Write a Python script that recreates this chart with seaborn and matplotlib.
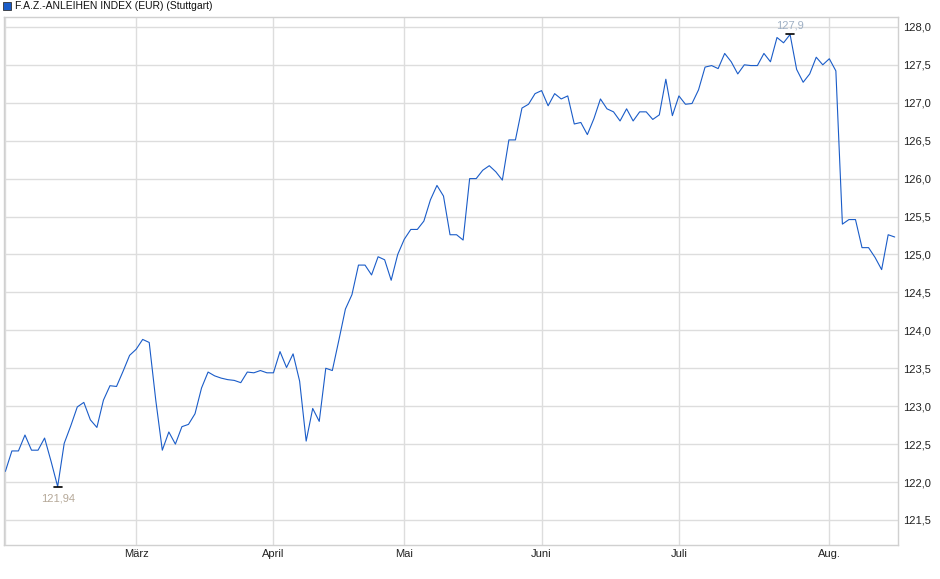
import numpy as np
import pandas as pd
import matplotlib
matplotlib.use("Agg")
import matplotlib.pyplot as plt
import seaborn as sns

# daily closes (trading-day index)
values = [
    122.14, 122.41, 122.41, 122.62, 122.42, 122.42, 122.58, 122.27, 121.94, 122.51,
    122.74, 122.99, 123.05, 122.82, 122.72, 123.08, 123.27, 123.26, 123.46, 123.67,
    123.75, 123.88, 123.84, 123.08, 122.42, 122.66, 122.50, 122.73, 122.76, 122.90,
    123.24, 123.45, 123.40, 123.37, 123.35, 123.34, 123.31, 123.45, 123.44, 123.47,
    123.44, 123.44, 123.72, 123.51, 123.69, 123.33, 122.54, 122.97, 122.80, 123.50,
    123.47, 123.87, 124.28, 124.47, 124.86, 124.86, 124.73, 124.97, 124.93, 124.66,
    125.00, 125.20, 125.33, 125.33, 125.44, 125.72, 125.91, 125.77, 125.26, 125.26,
    125.19, 126.00, 126.00, 126.11, 126.17, 126.09, 125.98, 126.51, 126.51, 126.93,
    126.98, 127.12, 127.16, 126.96, 127.12, 127.05, 127.09, 126.72, 126.74, 126.58,
    126.79, 127.05, 126.92, 126.88, 126.76, 126.92, 126.76, 126.88, 126.88, 126.78,
    126.84, 127.31, 126.83, 127.09, 126.98, 126.99, 127.17, 127.47, 127.49, 127.45,
    127.65, 127.54, 127.38, 127.50, 127.49, 127.49, 127.65, 127.54, 127.86, 127.79,
    127.90, 127.44, 127.27, 127.38, 127.60, 127.50, 127.58, 127.42, 125.40, 125.46,
    125.46, 125.09, 125.09, 124.96, 124.80, 125.26, 125.23,
]
month_labels = ["", "März", "April", "Mai", "Juni", "Juli", "Aug."]
month_starts = [0, 20, 41, 61, 82, 103, 126]
y_ticks = [121.5, 122.0, 122.5, 123.0, 123.5, 124.0, 124.5, 125.0, 125.5,
           126.0, 126.5, 127.0, 127.5, 128.0]

df = pd.DataFrame({"tag": np.arange(len(values)), "kurs": values})

sns.set_style("white")
plt.rcParams["font.family"] = ["Liberation Sans", "DejaVu Sans"]

fig = plt.figure(figsize=(9.4, 5.79), dpi=100)
ax = fig.add_axes([0.0043, 0.0587, 0.9510, 0.9119])

sns.lineplot(data=df, x="tag", y="kurs", ax=ax, color="#1a5cc8", linewidth=0.8)

ax.set_xlim(-0.2, 136.5)
ax.set_ylim(121.17, 128.13)
ax.set_xticks(month_starts)
ax.set_xticklabels(month_labels, fontsize=8, color="#222222")
ax.set_yticks(y_ticks)
ax.set_yticklabels([f"{v:.1f}".replace(".", ",") for v in y_ticks],
                   fontsize=8, color="#222222")
ax.yaxis.tick_right()
ax.tick_params(axis="x", length=0, pad=3)
ax.tick_params(axis="y", length=0, pad=4)
ax.grid(True, color="#dddddd", linewidth=1.0)
ax.set_axisbelow(True)
ax.set_xlabel("")
ax.set_ylabel("")
for s in ax.spines.values():
    s.set_color("#d0d0d0")
    s.set_linewidth(1.0)

# min / max markers
i_min = int(np.argmin(values))
i_max = int(np.argmax(values))
ax.plot([i_min - 0.6, i_min + 0.6], [values[i_min]] * 2, color="black", lw=1.2)
ax.plot([i_max - 0.6, i_max + 0.6], [values[i_max]] * 2, color="black", lw=1.2)
ax.annotate(f"{values[i_min]:.2f}".replace(".", ","), (i_min, values[i_min]),
            xytext=(0, -5), textcoords="offset points", ha="center", va="top",
            fontsize=8, color="#b5a898")
ax.annotate(f"{values[i_max]:.1f}".replace(".", ","), (i_max, values[i_max]),
            xytext=(0, 3), textcoords="offset points", ha="center", va="bottom",
            fontsize=8, color="#9fb0c4", clip_on=False)

# legend-like title
fig.patches.append(plt.Rectangle((3 / 940, 1 - 10 / 579), 8 / 940, 8 / 579,
                                 transform=fig.transFigure, facecolor="#1a5cc8",
                                 edgecolor="#333333", linewidth=0.6))
fig.text(15 / 940, 1 - 6 / 579, "F.A.Z.-ANLEIHEN INDEX (EUR) (Stuttgart)",
         fontsize=7.5, va="center", ha="left", color="#111111")

fig.savefig("out.png", dpi=100)
